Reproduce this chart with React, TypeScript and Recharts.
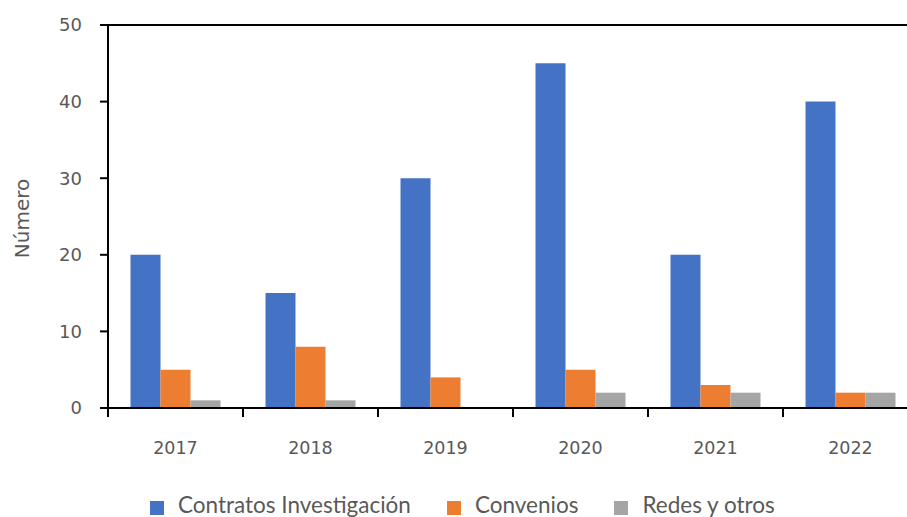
import React from "react";
import {
  BarChart,
  Bar,
  XAxis,
  YAxis,
  ReferenceLine,
  Label,
} from "recharts";

const years = ["2017", "2018", "2019", "2020", "2021", "2022"];
const contratos = [20, 15, 30, 45, 20, 40];
const convenios = [5, 8, 4, 5, 3, 2];
const redes = [1, 1, 0, 2, 2, 2];
const yTicks = [0, 10, 20, 30, 40, 50];

const seriesNames = ["Contratos Investigación", "Convenios", "Redes y otros"];
const seriesColors = ["#4472C4", "#ED7D31", "#A5A5A5"];

const data = years.map((year, i) => ({
  year,
  contratos: contratos[i],
  convenios: convenios[i],
  redes: redes[i],
}));

const textGray = "#595959";

// x tick: label in the middle, tick mark at the left edge of each category
function YearTick(props: any) {
  const { x, y, payload } = props;
  const half = payload.offset || 0;
  return (
    <g>
      <line x1={x - half} y1={y} x2={x - half} y2={y + 9} stroke="#000" strokeWidth={2} />
      <line x1={x + half} y1={y} x2={x + half} y2={y + 9} stroke="#000" strokeWidth={2} />
      <text
        x={x}
        y={y + 46}
        textAnchor="middle"
        fill={textGray}
        fontSize={17.5}
        fontFamily="DejaVu Sans"
      >
        {payload.value}
      </text>
    </g>
  );
}

function YTitle(props: any) {
  const { viewBox } = props;
  const cy = viewBox.y + viewBox.height / 2 + 2;
  return (
    <text
      x={22}
      y={cy}
      transform={`rotate(-90, 22, ${cy})`}
      textAnchor="middle"
      dominantBaseline="central"
      fill={textGray}
      fontSize={20}
      fontFamily="DejaVu Sans"
    >
      Número
    </text>
  );
}

export default function App() {
  return (
    <div
      style={{
        position: "absolute",
        left: 0,
        top: 0,
        width: 907,
        height: 517,
        overflow: "hidden",
        background: "#fff",
      }}
    >
      <BarChart
        width={930}
        height={517}
        data={data}
        margin={{ top: 25, right: 12, left: 0, bottom: 0 }}
        barCategoryGap="16.67%"
        barGap={0}
      >
        <XAxis
          dataKey="year"
          height={109}
          axisLine={{ stroke: "#000", strokeWidth: 2 }}
          tickLine={false}
          tickSize={0}
          tickMargin={0}
          interval={0}
          tick={<YearTick />}
        />
        <YAxis
          width={108}
          domain={[0, 50]}
          ticks={yTicks}
          interval={0}
          axisLine={{ stroke: "#000", strokeWidth: 2 }}
          tickLine={{ stroke: "#000", strokeWidth: 2 }}
          tickSize={8}
          tickMargin={18}
          tick={{ fill: textGray, fontSize: 18, fontFamily: "DejaVu Sans" }}
        >
          <Label content={<YTitle />} />
        </YAxis>
        <ReferenceLine y={50} stroke="#000" strokeWidth={2} />
        <Bar dataKey="contratos" name={seriesNames[0]} fill={seriesColors[0]} isAnimationActive={false} />
        <Bar dataKey="convenios" name={seriesNames[1]} fill={seriesColors[1]} isAnimationActive={false} />
        <Bar dataKey="redes" name={seriesNames[2]} fill={seriesColors[2]} isAnimationActive={false} />
      </BarChart>

      {/* legend */}
      <div
        style={{
          position: "absolute",
          left: 150,
          top: 491,
          display: "flex",
          alignItems: "center",
          fontFamily: "Lato",
          fontSize: 22.5,
          color: textGray,
          whiteSpace: "nowrap",
        }}
      >
        {seriesNames.map((name, i) => (
          <div key={name} style={{ display: "flex", alignItems: "center", marginRight: 36 }}>
            <span
              style={{
                display: "inline-block",
                width: 14,
                height: 14,
                background: seriesColors[i],
                marginRight: 14,
                marginTop: 6,
              }}
            />
            <span>{name}</span>
          </div>
        ))}
      </div>
    </div>
  );
}
